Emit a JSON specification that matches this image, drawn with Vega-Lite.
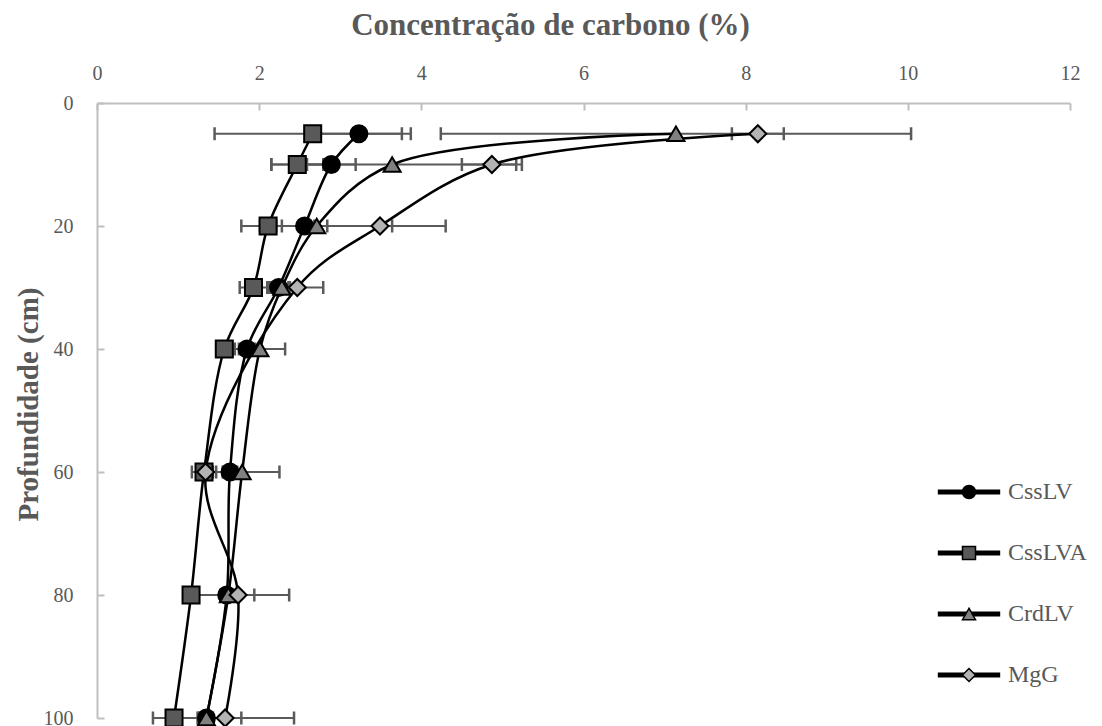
{
  "$schema": "https://vega.github.io/schema/vega-lite/v6.json",
  "width": 973,
  "height": 615,
  "autosize": {"type": "none"},
  "padding": {"left": 97, "top": 103, "right": 32, "bottom": 8},
  "background": "white",
  "config": {
    "view": {"stroke": null},
    "font": "Liberation Serif",
    "axisX": {
      "orient": "top", "grid": false,
      "titleFont": "Liberation Serif", "titleFontSize": 31, "titleFontWeight": "bold", "titleColor": "#595959",
      "titleX": 453, "titleY": -69, "titleAnchor": "middle", "titleAlign": "center", "titleBaseline": "alphabetic",
      "labelFont": "Liberation Serif", "labelFontSize": 20, "labelColor": "#595959",
      "labelPadding": 27, "labelFlush": false,
      "domainColor": "#bfbfbf", "domainWidth": 2,
      "tickColor": "#bfbfbf", "tickWidth": 2, "tickSize": -7
    },
    "axisY": {
      "grid": false,
      "titleFont": "Liberation Serif", "titleFontSize": 29, "titleFontWeight": "bold", "titleColor": "#595959",
      "titleAngle": -90, "titleX": -60, "titleY": 301, "titleAlign": "center", "titleBaseline": "alphabetic",
      "labelFont": "Liberation Serif", "labelFontSize": 20, "labelColor": "#595959",
      "labelPadding": 31, "labelFlush": false,
      "domainColor": "#bfbfbf", "domainWidth": 2,
      "tickColor": "#bfbfbf", "tickWidth": 2, "tickSize": -7
    },
    "legend": {
      "title": null, "orient": "none", "padding": 0,
      "symbolSize": 169, "symbolOffset": 0, "labelOffset": 27, "rowPadding": 37,
      "labelFont": "Liberation Serif", "labelFontSize": 24, "labelColor": "#595959"
    }
  },
  "data": {
    "values": [
      {"series": "CssLV", "depth": 5, "value": 3.23, "lo": 2.70, "hi": 3.76},
      {"series": "CssLV", "depth": 10, "value": 2.89, "lo": 2.59, "hi": 3.19},
      {"series": "CssLV", "depth": 20, "value": 2.56, "lo": 2.28, "hi": 2.84},
      {"series": "CssLV", "depth": 30, "value": 2.24, "lo": 2.12, "hi": 2.36},
      {"series": "CssLV", "depth": 40, "value": 1.85, "lo": 1.75, "hi": 1.95},
      {"series": "CssLV", "depth": 60, "value": 1.64, "lo": 1.55, "hi": 1.73},
      {"series": "CssLV", "depth": 80, "value": 1.60, "lo": 1.52, "hi": 1.68},
      {"series": "CssLV", "depth": 100, "value": 1.35, "lo": 1.27, "hi": 1.43},
      {"series": "CssLVA", "depth": 5, "value": 2.66, "lo": 1.45, "hi": 3.87},
      {"series": "CssLVA", "depth": 10, "value": 2.47, "lo": 2.15, "hi": 2.79},
      {"series": "CssLVA", "depth": 20, "value": 2.11, "lo": 2.01, "hi": 2.21},
      {"series": "CssLVA", "depth": 30, "value": 1.93, "lo": 1.76, "hi": 2.10},
      {"series": "CssLVA", "depth": 40, "value": 1.57, "lo": 1.47, "hi": 1.67},
      {"series": "CssLVA", "depth": 60, "value": 1.32, "lo": 1.17, "hi": 1.47},
      {"series": "CssLVA", "depth": 80, "value": 1.16, "lo": 1.08, "hi": 1.24},
      {"series": "CssLVA", "depth": 100, "value": 0.95, "lo": 0.69, "hi": 1.24},
      {"series": "CrdLV", "depth": 5, "value": 7.14, "lo": 4.24, "hi": 10.04},
      {"series": "CrdLV", "depth": 10, "value": 3.64, "lo": 2.15, "hi": 5.17},
      {"series": "CrdLV", "depth": 20, "value": 2.71, "lo": 1.78, "hi": 3.64},
      {"series": "CrdLV", "depth": 30, "value": 2.28, "lo": 2.18, "hi": 2.38},
      {"series": "CrdLV", "depth": 40, "value": 2.01, "lo": 1.70, "hi": 2.32},
      {"series": "CrdLV", "depth": 60, "value": 1.79, "lo": 1.33, "hi": 2.25},
      {"series": "CrdLV", "depth": 80, "value": 1.62, "lo": 1.22, "hi": 2.37},
      {"series": "CrdLV", "depth": 100, "value": 1.35, "lo": 1.25, "hi": 2.43},
      {"series": "MgG", "depth": 5, "value": 8.15, "lo": 7.83, "hi": 8.47},
      {"series": "MgG", "depth": 10, "value": 4.87, "lo": 4.50, "hi": 5.24},
      {"series": "MgG", "depth": 20, "value": 3.49, "lo": 2.68, "hi": 4.30},
      {"series": "MgG", "depth": 30, "value": 2.47, "lo": 2.15, "hi": 2.79},
      {"series": "MgG", "depth": 60, "value": 1.34, "lo": 1.25, "hi": 1.43},
      {"series": "MgG", "depth": 80, "value": 1.74, "lo": 1.54, "hi": 1.94},
      {"series": "MgG", "depth": 100, "value": 1.58, "lo": 1.38, "hi": 1.78}
    ]
  },
  "layer": [
    {
      "mark": {"type": "rule", "stroke": "#5a5a5a", "strokeWidth": 2},
      "encoding": {
        "x": {"field": "lo", "type": "quantitative", "scale": {"domain": [0, 12], "nice": false, "zero": false}, "axis": {"values": [0, 2, 4, 6, 8, 10, 12], "title": "Concentração de carbono (%)"}},
        "x2": {"field": "hi"},
        "y": {"field": "depth", "type": "quantitative", "scale": {"domain": [0, 100], "reverse": true, "nice": false, "zero": false}, "axis": {"values": [0, 20, 40, 60, 80, 100], "title": "Profundidade (cm)"}}
      }
    },
    {
      "mark": {"type": "tick", "orient": "vertical", "color": "#5a5a5a", "thickness": 2.5, "size": 13, "opacity": 1},
      "encoding": {
        "x": {"field": "lo", "type": "quantitative", "scale": {"domain": [0, 12], "nice": false, "zero": false}, "axis": {"values": [0, 2, 4, 6, 8, 10, 12], "title": "Concentração de carbono (%)"}},
        "y": {"field": "depth", "type": "quantitative", "scale": {"domain": [0, 100], "reverse": true, "nice": false, "zero": false}, "axis": {"values": [0, 20, 40, 60, 80, 100], "title": "Profundidade (cm)"}}
      }
    },
    {
      "mark": {"type": "tick", "orient": "vertical", "color": "#5a5a5a", "thickness": 2.5, "size": 13, "opacity": 1},
      "encoding": {
        "x": {"field": "hi", "type": "quantitative", "scale": {"domain": [0, 12], "nice": false, "zero": false}, "axis": {"values": [0, 2, 4, 6, 8, 10, 12], "title": "Concentração de carbono (%)"}},
        "y": {"field": "depth", "type": "quantitative", "scale": {"domain": [0, 100], "reverse": true, "nice": false, "zero": false}, "axis": {"values": [0, 20, 40, 60, 80, 100], "title": "Profundidade (cm)"}}
      }
    },
    {
      "mark": {"type": "line", "interpolate": "catmull-rom", "strokeWidth": 2.5},
      "encoding": {
        "x": {"field": "value", "type": "quantitative", "scale": {"domain": [0, 12], "nice": false, "zero": false}, "axis": {"values": [0, 2, 4, 6, 8, 10, 12], "title": "Concentração de carbono (%)"}},
        "y": {"field": "depth", "type": "quantitative", "scale": {"domain": [0, 100], "reverse": true, "nice": false, "zero": false}, "axis": {"values": [0, 20, 40, 60, 80, 100], "title": "Profundidade (cm)"}},
        "order": {"field": "depth", "type": "quantitative"},
        "stroke": {
          "field": "series", "type": "nominal", "sort": null,
          "scale": {"range": ["#000000", "#000000", "#000000", "#000000"]},
          "legend": {
            "legendX": 860, "legendY": 377,
            "symbolType": "M-4.8,0H4.8",
            "symbolStrokeWidth": 5,
            "symbolStrokeColor": "#000000",
            "labelOpacity": 0
          }
        }
      }
    },
    {
      "mark": {"type": "point", "filled": true, "stroke": "black", "strokeWidth": 2, "opacity": 1, "strokeOpacity": 1, "fillOpacity": 1, "size": 290},
      "encoding": {
        "x": {"field": "value", "type": "quantitative", "scale": {"domain": [0, 12], "nice": false, "zero": false}, "axis": {"values": [0, 2, 4, 6, 8, 10, 12], "title": "Concentração de carbono (%)"}},
        "y": {"field": "depth", "type": "quantitative", "scale": {"domain": [0, 100], "reverse": true, "nice": false, "zero": false}, "axis": {"values": [0, 20, 40, 60, 80, 100], "title": "Profundidade (cm)"}},
        "shape": {
          "field": "series", "type": "nominal",
          "scale": {"domain": ["CssLV", "CssLVA", "CrdLV", "MgG"], "range": ["circle", "square", "triangle-up", "diamond"]},
          "legend": {"legendX": 860, "legendY": 377}
        },
        "fill": {
          "field": "series", "type": "nominal",
          "scale": {"domain": ["CssLV", "CssLVA", "CrdLV", "MgG"], "range": ["#000000", "#595959", "#808080", "#b3b3b3"]},
          "legend": {"legendX": 860, "legendY": 377}
        }
      }
    }
  ]
}
